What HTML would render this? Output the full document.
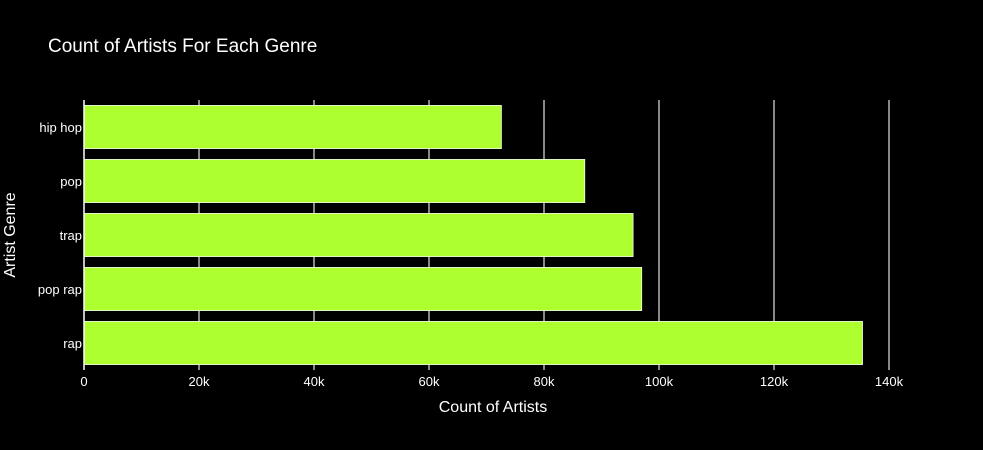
<!DOCTYPE html>
<html><head><meta charset="utf-8"><style>
body{margin:0;background:#000;}
svg{display:block;font-family:"Liberation Sans","DejaVu Sans",sans-serif;}
</style></head><body>
<svg id="c" width="983" height="450">
<rect width="983" height="450" fill="#000"/>
<text x="48" y="52" fill="#fff" font-size="19">Count of Artists For Each Genre</text>
<g id="grid"></g><g id="bars"></g><g id="xt"></g><g id="yt"></g>
<line x1="84" y1="100" x2="84" y2="370" stroke="#fff" stroke-width="1.5"/>
<text x="493" y="412" fill="#fff" font-size="16" text-anchor="middle">Count of Artists</text>
<text x="0" y="0" fill="#fff" font-size="16" text-anchor="middle" transform="translate(15,235) rotate(-90)">Artist Genre</text>
</svg>
<script>
const categories=["rap","pop rap","trap","pop","hip hop"];
const values=[135400,97000,95500,87100,72600];
const xTicks=[0,20000,40000,60000,80000,100000,120000,140000];
const xTickLabels=["0","20k","40k","60k","80k","100k","120k","140k"];
const NS="http://www.w3.org/2000/svg";
const X0=84,PX_PER=805/140000,PLOT_TOP=100,PLOT_BOT=370;
const xs=v=>X0+v*PX_PER;
const band=(PLOT_BOT-PLOT_TOP)/categories.length;
const yc=i=>PLOT_BOT-band*(i+0.5);
function mk(t,a,p){const e=document.createElementNS(NS,t);for(const k in a)e.setAttribute(k,a[k]);p.appendChild(e);return e;}
const g=document.getElementById('grid'),b=document.getElementById('bars'),xt=document.getElementById('xt'),yt=document.getElementById('yt');
xTicks.forEach((t,i)=>{
 if(t>0){const l=mk('line',{x1:xs(t),x2:xs(t),y1:PLOT_TOP,y2:PLOT_BOT,stroke:'#888','stroke-width':2},g);
 
 }
 const tx=mk('text',{x:xs(t),y:PLOT_BOT+16,fill:'#fff','font-size':13,'text-anchor':'middle'},xt);
 tx.textContent=xTickLabels[i];
 
 
});
categories.forEach((c,i)=>{
 const h=band*0.8;
 const r=mk('rect',{x:X0,y:yc(i)-h/2,width:xs(values[i])-X0,height:h,fill:'#adff2f',stroke:'#fff','stroke-width':0.7},b);
 
 
 const tx=mk('text',{x:X0-2,y:yc(i)+5,fill:'#fff','font-size':13,'text-anchor':'end'},yt);
 tx.textContent=c;
 
 
});
</script>
</body></html>
